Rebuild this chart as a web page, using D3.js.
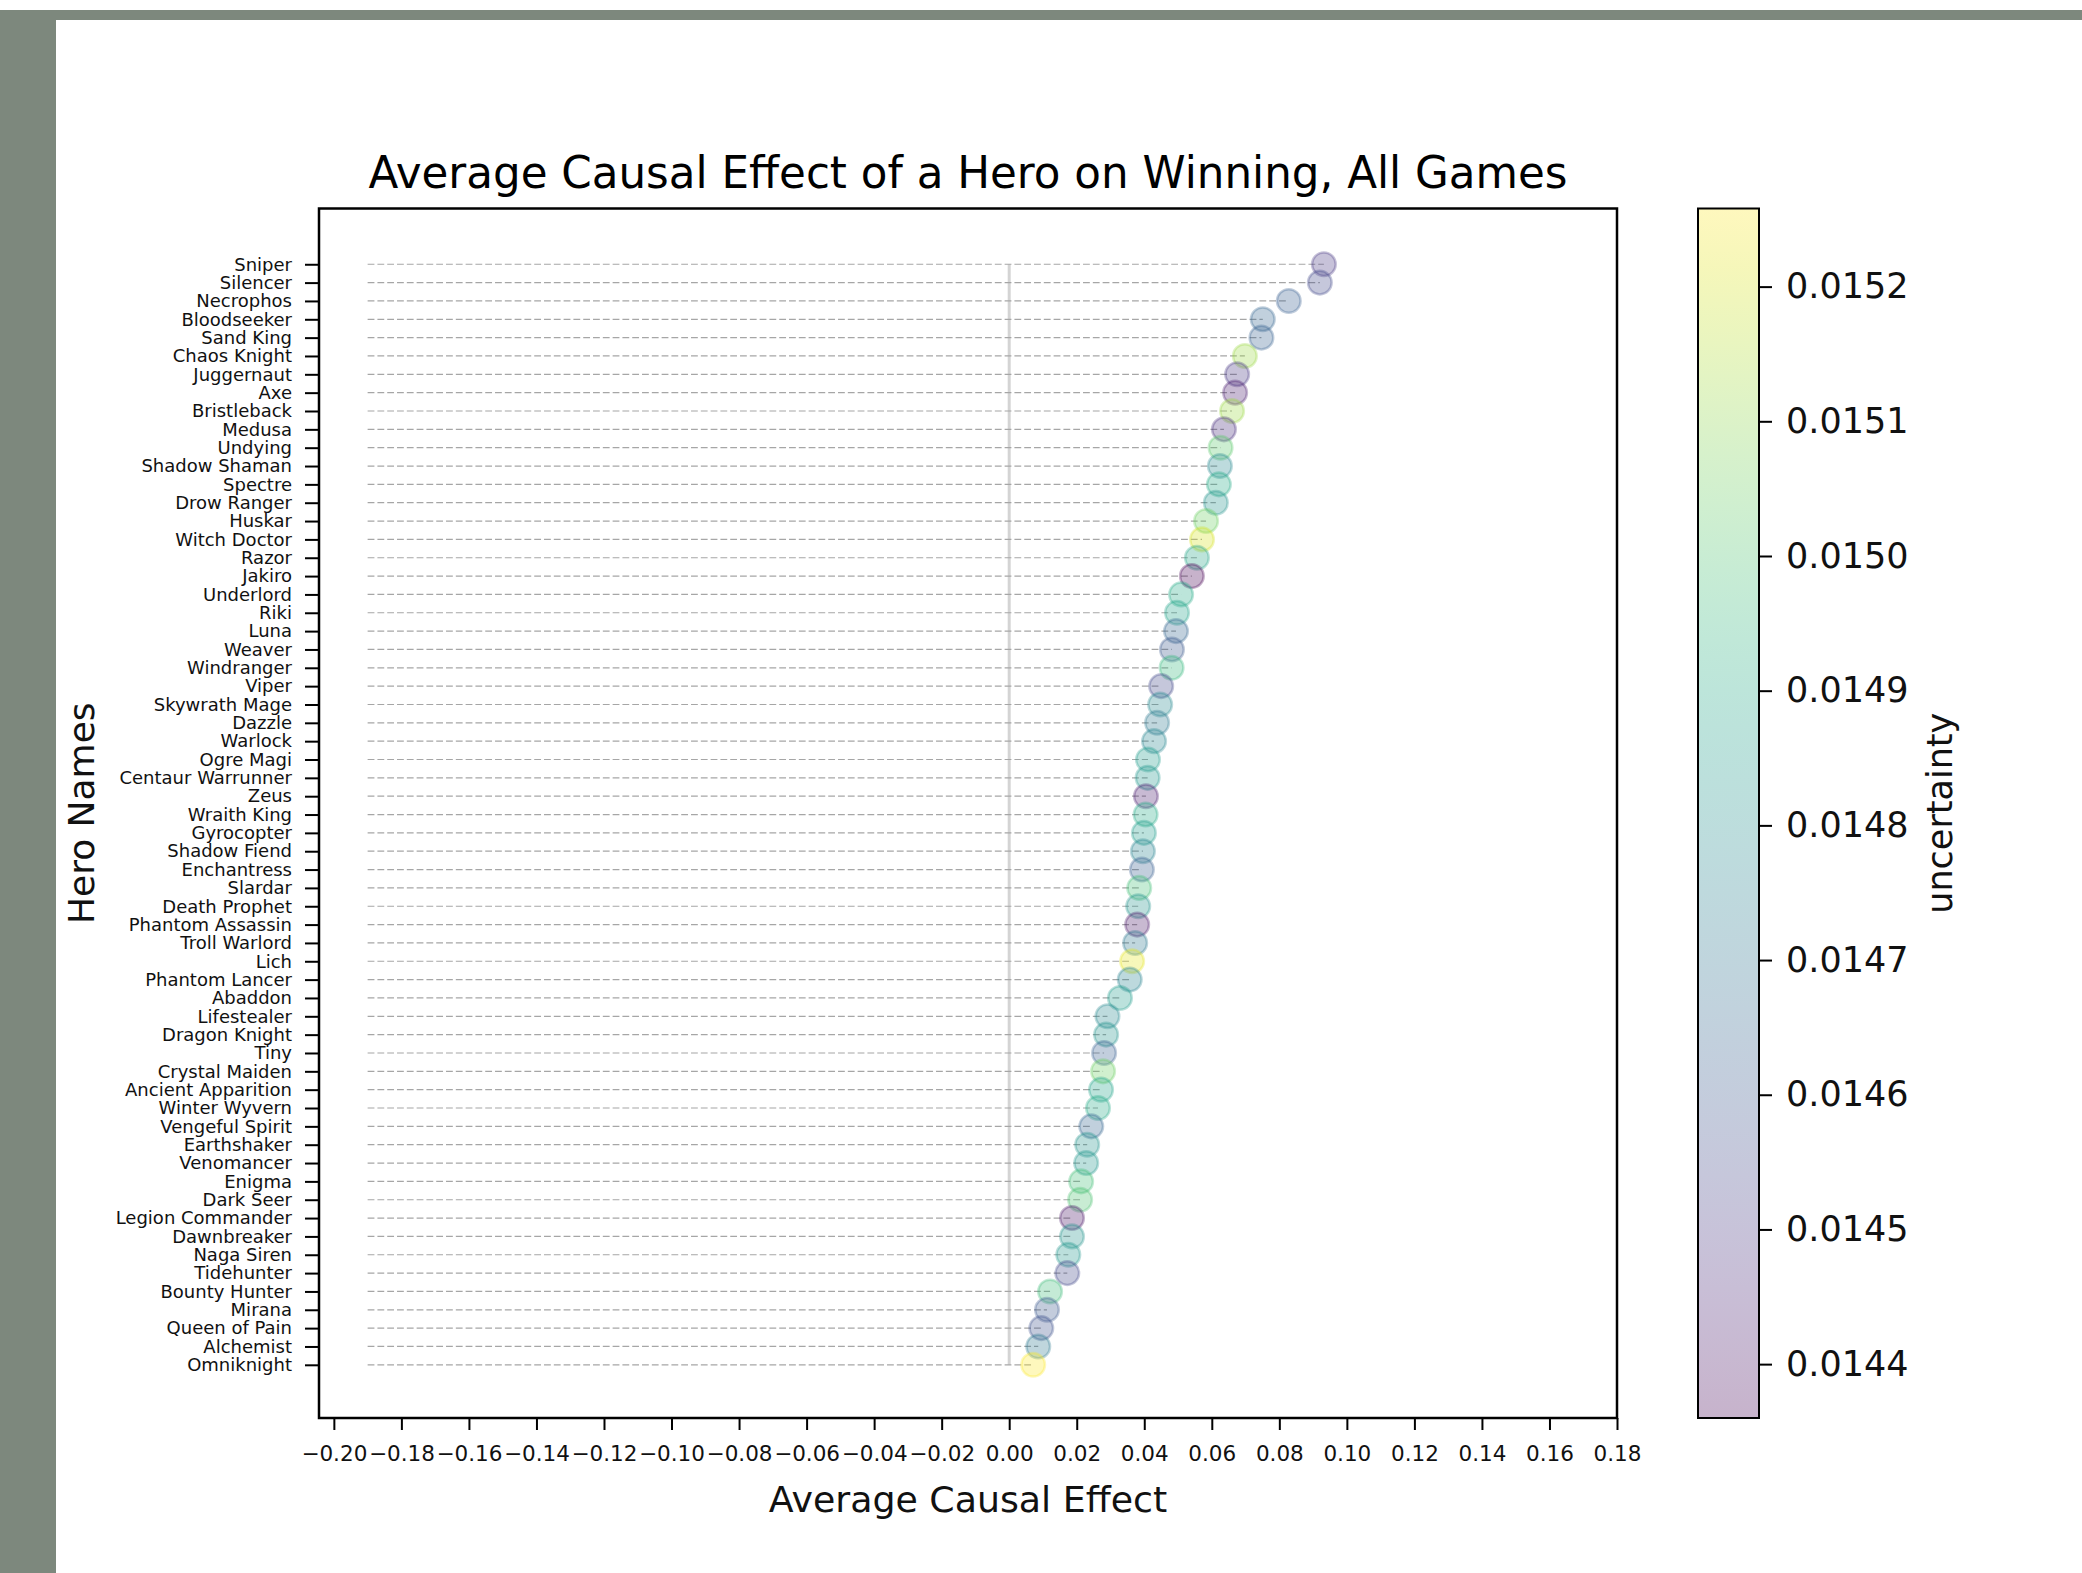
<!DOCTYPE html>
<html>
<head>
<meta charset="utf-8">
<script src="https://cdn.jsdelivr.net/npm/d3@7"></script>
<style>
  body { margin: 0; background: #fff; }
  svg text { font-family: "DejaVu Sans", sans-serif; }
</style>
</head>
<body>
<svg id="chart" width="2082" height="1573"></svg>
<script>
// hero list, top of the chart first
const heroes = [
  "Sniper", "Silencer", "Necrophos", "Bloodseeker", "Sand King", "Chaos Knight",
  "Juggernaut", "Axe", "Bristleback", "Medusa", "Undying", "Shadow Shaman",
  "Spectre", "Drow Ranger", "Huskar", "Witch Doctor", "Razor", "Jakiro",
  "Underlord", "Riki", "Luna", "Weaver", "Windranger", "Viper", "Skywrath Mage",
  "Dazzle", "Warlock", "Ogre Magi", "Centaur Warrunner", "Zeus", "Wraith King",
  "Gyrocopter", "Shadow Fiend", "Enchantress", "Slardar", "Death Prophet",
  "Phantom Assassin", "Troll Warlord", "Lich", "Phantom Lancer", "Abaddon",
  "Lifestealer", "Dragon Knight", "Tiny", "Crystal Maiden", "Ancient Apparition",
  "Winter Wyvern", "Vengeful Spirit", "Earthshaker", "Venomancer", "Enigma",
  "Dark Seer", "Legion Commander", "Dawnbreaker", "Naga Siren", "Tidehunter",
  "Bounty Hunter", "Mirana", "Queen of Pain", "Alchemist", "Omniknight"
];

const effects = [
  0.0932, 0.0920, 0.0828, 0.0751, 0.0747, 0.0698,
  0.0675, 0.0669, 0.0660, 0.0636, 0.0626, 0.0624,
  0.0621, 0.0612, 0.0583, 0.0571, 0.0556, 0.0541,
  0.0509, 0.0497, 0.0494, 0.0482, 0.0481, 0.0450, 0.0447,
  0.0438, 0.0429, 0.0411, 0.0410, 0.0405, 0.0404,
  0.0399, 0.0396, 0.0393, 0.0385, 0.0382,
  0.0379, 0.0373, 0.0364, 0.0357, 0.0328,
  0.0291, 0.0287, 0.0281, 0.0278, 0.0272,
  0.0263, 0.0243, 0.0231, 0.0228, 0.0213,
  0.0210, 0.0186, 0.0186, 0.0175, 0.0172,
  0.0121, 0.0112, 0.0095, 0.0086, 0.0071
];

const uncertainty = [
  0.01450, 0.01455, 0.01462, 0.01465, 0.01463, 0.01512,
  0.01450, 0.01442, 0.01512, 0.01447, 0.01502, 0.01478,
  0.01490, 0.01482, 0.01505, 0.01520, 0.01488, 0.01436,
  0.01490, 0.01487, 0.01465, 0.01460, 0.01495, 0.01455, 0.01478,
  0.01472, 0.01477, 0.01485, 0.01483, 0.01443, 0.01490,
  0.01485, 0.01475, 0.01462, 0.01498, 0.01482,
  0.01441, 0.01472, 0.01522, 0.01475, 0.01485,
  0.01478, 0.01482, 0.01462, 0.01505, 0.01487,
  0.01490, 0.01465, 0.01482, 0.01483, 0.01498,
  0.01500, 0.01440, 0.01482, 0.01483, 0.01455,
  0.01497, 0.01460, 0.01458, 0.01472, 0.015258
];

const lineStart = -0.19;
const xTicks = [-0.20, -0.18, -0.16, -0.14, -0.12, -0.10, -0.08, -0.06, -0.04, -0.02,
  0.00, 0.02, 0.04, 0.06, 0.08, 0.10, 0.12, 0.14, 0.16, 0.18];
const cbTicks = [0.0144, 0.0145, 0.0146, 0.0147, 0.0148, 0.0149, 0.0150, 0.0151, 0.0152];

const svg = d3.select("#chart");
const BORDER = "#7d887d";
const ALPHA = 0.3;

// notebook frame
svg.append("rect").attr("x", 0).attr("y", 10).attr("width", 2082).attr("height", 10).attr("fill", BORDER);
svg.append("rect").attr("x", 0).attr("y", 10).attr("width", 56).attr("height", 1563).attr("fill", BORDER);

const M = { left: 319, right: 1617, top: 208.5, bottom: 1418 };
const n = heroes.length;
const rows = heroes.map((h, i) => ({ hero: h, effect: effects[i], unc: uncertainty[i], pos: n - 1 - i }));

const x = d3.scaleLinear().domain([-0.2044, 0.18]).range([M.left, M.right]);
const y = d3.scaleLinear().domain([-2.9, 63.04]).range([M.bottom, M.top]);
const ext = d3.extent(uncertainty);
const color = d3.scaleSequential(d3.interpolateViridis).domain(ext);

// zero line
svg.append("line")
  .attr("x1", x(0)).attr("x2", x(0))
  .attr("y1", y(0)).attr("y2", y(n - 1))
  .attr("stroke", "#d4d4d4").attr("stroke-width", 3);

// dashed guide lines
svg.append("g").selectAll("line")
  .data(rows)
  .join("line")
  .attr("x1", x(lineStart)).attr("x2", d => x(d.effect))
  .attr("y1", d => y(d.pos)).attr("y2", d => y(d.pos))
  .attr("stroke", "#a6a6a6").attr("stroke-width", 1.2)
  .attr("stroke-dasharray", "6.8,3");

// dots
svg.append("g").selectAll("circle")
  .data(rows)
  .join("circle")
  .attr("cx", d => x(d.effect)).attr("cy", d => y(d.pos)).attr("r", 11.8)
  .attr("fill", d => color(d.unc)).attr("fill-opacity", ALPHA)
  .attr("stroke", d => color(d.unc)).attr("stroke-opacity", ALPHA)
  .attr("stroke-width", 2.5);

// axes
const fmtX = d3.format(".2f");
const gx = svg.append("g")
  .attr("transform", `translate(0,${M.bottom})`)
  .call(d3.axisBottom(x).tickValues(xTicks).tickSize(12).tickPadding(16)
    .tickFormat(d => fmtX(d).replace("-", "\u2212")));
gx.select(".domain").remove();
gx.attr("font-family", "DejaVu Sans").attr("font-size", 21.5);
gx.selectAll("line").attr("stroke-width", 2);
gx.selectAll("text").attr("fill", "#111");

const gy = svg.append("g")
  .attr("transform", `translate(${M.left},0)`)
  .call(d3.axisLeft(y).tickValues(rows.map(d => d.pos)).tickSize(14).tickPadding(13)
    .tickFormat(p => heroes[n - 1 - p]));
gy.select(".domain").remove();
gy.attr("font-family", "DejaVu Sans").attr("font-size", 18);
gy.selectAll("line").attr("stroke-width", 2);
gy.selectAll("text").attr("fill", "#111");

svg.append("rect")
  .attr("x", M.left).attr("y", M.top)
  .attr("width", M.right - M.left).attr("height", M.bottom - M.top)
  .attr("fill", "none").attr("stroke", "#000").attr("stroke-width", 2.5);

// titles
svg.append("text")
  .attr("x", (M.left + M.right) / 2).attr("y", 188)
  .attr("text-anchor", "middle").attr("font-size", 43.6).attr("fill", "#000")
  .text("Average Causal Effect of a Hero on Winning, All Games");
svg.append("text")
  .attr("x", (M.left + M.right) / 2).attr("y", 1512)
  .attr("text-anchor", "middle").attr("font-size", 36.3).attr("fill", "#111")
  .text("Average Causal Effect");
svg.append("text")
  .attr("transform", `translate(94,${(M.top + M.bottom) / 2}) rotate(-90)`)
  .attr("text-anchor", "middle").attr("font-size", 36).attr("fill", "#111")
  .text("Hero Names");

// colorbar
const CB = { x: 1698, w: 61 };
const cb = d3.scaleLinear().domain(ext).range([M.bottom, M.top]);
const grad = svg.append("defs").append("linearGradient")
  .attr("id", "cbgrad").attr("x1", 0).attr("y1", 1).attr("x2", 0).attr("y2", 0);
d3.range(0, 1.0001, 0.05).forEach(t => {
  grad.append("stop").attr("offset", t)
    .attr("stop-color", d3.interpolateViridis(t)).attr("stop-opacity", ALPHA);
});
svg.append("rect")
  .attr("x", CB.x).attr("y", M.top).attr("width", CB.w).attr("height", M.bottom - M.top)
  .attr("fill", "url(#cbgrad)").attr("stroke", "#000").attr("stroke-width", 2);

const gc = svg.append("g")
  .attr("transform", `translate(${CB.x + CB.w},0)`)
  .call(d3.axisRight(cb).tickValues(cbTicks).tickSize(13).tickPadding(14).tickFormat(d3.format(".4f")));
gc.select(".domain").remove();
gc.attr("font-family", "DejaVu Sans").attr("font-size", 35);
gc.selectAll("line").attr("stroke-width", 2);
gc.selectAll("text").attr("fill", "#111");

svg.append("text")
  .attr("transform", `translate(1952,${(M.top + M.bottom) / 2}) rotate(-90)`)
  .attr("text-anchor", "middle").attr("font-size", 35).attr("fill", "#111")
  .text("uncertainty");
</script>
</body>
</html>
